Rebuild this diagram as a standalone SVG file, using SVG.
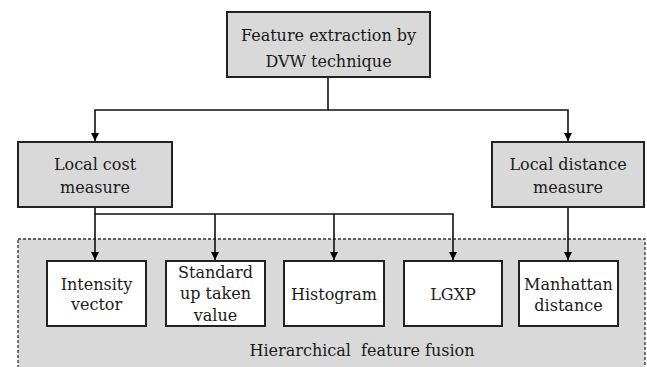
<svg xmlns="http://www.w3.org/2000/svg" width="647" height="367" viewBox="0 0 647 367">
<defs>
<marker id="ah" viewBox="0 0 10 10" refX="10" refY="5" markerWidth="8" markerHeight="8" markerUnits="userSpaceOnUse" orient="auto">
<path d="M0,0 L10,5 L0,10 z" fill="#000"/>
</marker>
<style>
.g{fill:#d9d9d9;stroke:#222;stroke-width:2}
.w{fill:#fff;stroke:#222;stroke-width:2}
.t{font-family:"DejaVu Serif","Liberation Serif",serif;font-size:16px;fill:#1a1a1a;text-anchor:middle}
.c{fill:none;stroke:#111;stroke-width:1.6}
</style>
</defs>
<rect id="fusion-bg" x="18" y="239" width="627" height="140" fill="#d9d9d9" stroke="#333" stroke-width="1.3" stroke-dasharray="3,2"/>
<text class="t" x="362" y="356">Hierarchical&#160; feature fusion</text>
<g id="connectors">
<path class="c" d="M328,77 V110 H95 V141" marker-end="url(#ah)"/>
<path class="c" d="M328,110 H568 V141" marker-end="url(#ah)"/>
<path class="c" d="M95,207 V214 H453 V260" marker-end="url(#ah)"/>
<path class="c" d="M95,214 V260" marker-end="url(#ah)"/>
<path class="c" d="M215,214 V260" marker-end="url(#ah)"/>
<path class="c" d="M334,214 V260" marker-end="url(#ah)"/>
<path class="c" d="M568,207 V260" marker-end="url(#ah)"/>
</g>
<g id="dvw">
<rect class="g" x="227" y="12" width="203" height="65"/>
<text class="t" x="328.5" y="41">Feature extraction by</text>
<text class="t" x="328.5" y="67">DVW technique</text>
</g>
<g id="local-cost">
<rect class="g" x="18" y="142" width="154" height="65"/>
<text class="t" x="95" y="170">Local cost</text>
<text class="t" x="95" y="193">measure</text>
</g>
<g id="local-distance">
<rect class="g" x="492" y="142" width="152" height="65"/>
<text class="t" x="568" y="170">Local distance</text>
<text class="t" x="568" y="193">measure</text>
</g>
<g id="intensity">
<rect class="w" x="47" y="261" width="99" height="65"/>
<text class="t" x="96.5" y="290">Intensity</text>
<text class="t" x="96.5" y="310">vector</text>
</g>
<g id="standard">
<rect class="w" x="166" y="261" width="99" height="65"/>
<text class="t" x="215.5" y="278">Standard</text>
<text class="t" x="215.5" y="299">up taken</text>
<text class="t" x="215.5" y="321">value</text>
</g>
<g id="histogram">
<rect class="w" x="284" y="261" width="100" height="65"/>
<text class="t" x="334" y="300">Histogram</text>
</g>
<g id="lgxp">
<rect class="w" x="404" y="261" width="98" height="65"/>
<text class="t" x="453" y="300">LGXP</text>
</g>
<g id="manhattan">
<rect class="w" x="519" y="261" width="99" height="65"/>
<text class="t" x="568.5" y="290">Manhattan</text>
<text class="t" x="568.5" y="311">distance</text>
</g>
</svg>
